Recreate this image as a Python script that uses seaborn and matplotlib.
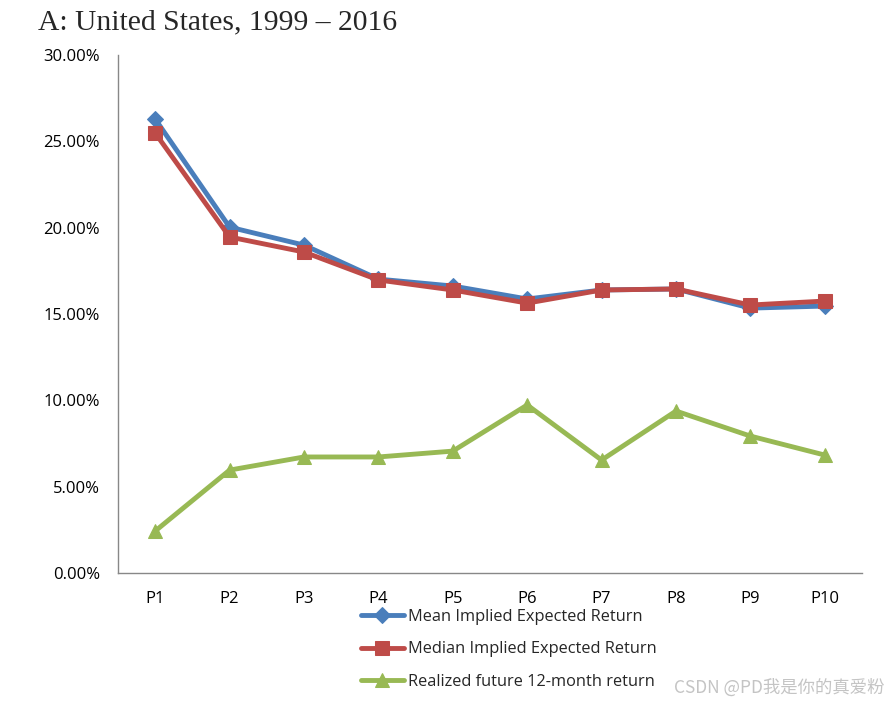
import matplotlib
matplotlib.use("Agg")
import matplotlib.pyplot as plt
import seaborn as sns
import pandas as pd
import numpy as np
from matplotlib.ticker import FuncFormatter, FixedLocator

categories = ["P1", "P2", "P3", "P4", "P5", "P6", "P7", "P8", "P9", "P10"]
mean_ret = [26.29, 20.03, 18.99, 17.02, 16.62, 15.87, 16.39, 16.45, 15.34, 15.46]
median_ret = [25.48, 19.46, 18.59, 16.97, 16.39, 15.63, 16.39, 16.45, 15.52, 15.75]
realized_ret = [2.43, 5.96, 6.72, 6.72, 7.06, 9.73, 6.54, 9.38, 7.93, 6.83]
yticks = [0, 5, 10, 15, 20, 25, 30]

series_names = ["Mean Implied Expected Return", "Median Implied Expected Return",
                "Realized future 12-month return"]
colors = ["#4A7EBB", "#BE4B48", "#98B954"]
markers = ["D", "s", "^"]
msizes = [8, 10, 10]

sns.set_style("white")
plt.rcParams['font.family'] = ['Open Sans', 'DejaVu Sans']

fig = plt.figure(figsize=(8.9, 7.03), dpi=100)
ax = fig.add_axes([118/890, 130/703, 744/890, 518/703])

x = np.arange(len(categories))
for name, vals, c, m, ms in zip(series_names, [mean_ret, median_ret, realized_ret], colors, markers, msizes):
    df = pd.DataFrame({"x": x, "y": vals})
    sns.lineplot(data=df, x="x", y="y", ax=ax, color=c, linewidth=3.5, marker=m,
                 markersize=ms, markeredgecolor=c, label=name)

ax.set_xlim(-0.5, len(categories) - 0.5)
ax.set_ylim(0, 30)
ax.set_yticks(yticks)
ax.yaxis.set_major_formatter(FuncFormatter(lambda v, p: f"{v:.2f}%"))
ax.set_xticks(x)
ax.set_xticklabels(categories)
ax.xaxis.set_minor_locator(FixedLocator(np.arange(-0.5, len(categories), 1.0)))
ax.tick_params(axis='x', which='major', length=0, pad=13, labelsize=12, colors='black')
ax.tick_params(axis='x', which='minor', length=6, width=1, color='#888888', direction='out')
ax.tick_params(axis='y', which='major', length=6, width=1, color='#888888', direction='out',
               labelsize=12, pad=7, labelcolor='black')
ax.set_xlabel("")
ax.set_ylabel("")
for s in ["top", "right"]:
    ax.spines[s].set_visible(False)
for s in ["left", "bottom"]:
    ax.spines[s].set_color("#888888")
    ax.spines[s].set_linewidth(1)
ax.grid(False)

leg = ax.legend(loc="upper left", bbox_to_anchor=(361/890, 1 - 609/703),
                bbox_transform=fig.transFigure, frameon=False, fontsize=11.8,
                handlelength=2.6, handletextpad=0.25, labelspacing=1.0, borderpad=0,
                borderaxespad=0)
for line in leg.get_lines():
    line.set_linewidth(3.5)

fig.text(38/890, 1 - 22/703, "A: United States, 1999 \u2013 2016", fontsize=21.3,
         family=['Liberation Serif', 'DejaVu Serif'], va='center', ha='left')

fig.text(885/890, 1 - 688/703, "CSDN @PD我是你的真爱粉", fontsize=12.5, color="#C4C4C4",
         family=['Noto Sans CJK SC', 'DejaVu Sans'], ha='right', va='center')

fig.savefig("out.png", dpi=100)
